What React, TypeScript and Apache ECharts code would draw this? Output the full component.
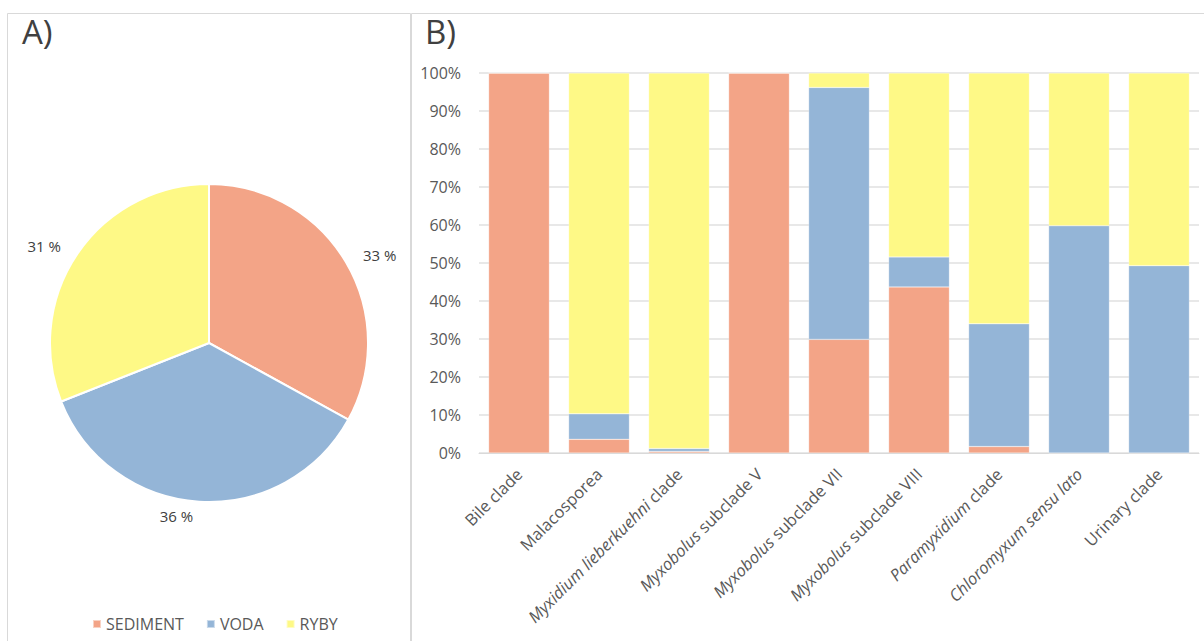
import React, { useEffect, useRef } from "react";
import * as echarts from "echarts";

const seriesNames = ["SEDIMENT", "VODA", "RYBY"];
const pieValues = [33, 36, 31];
const categories = [
  "Bile clade",
  "Malacosporea",
  "Myxidium lieberkuehni clade",
  "Myxobolus subclade V",
  "Myxobolus subclade VII",
  "Myxobolus subclade VIII",
  "Paramyxidium clade",
  "Chloromyxum sensu lato",
  "Urinary clade",
];
const italicParts = ["", "", "Myxidium lieberkuehni", "Myxobolus", "Myxobolus", "Myxobolus", "Paramyxidium", "Chloromyxum sensu lato", ""];
const sediment = [100, 3.6, 0.4, 100, 29.9, 43.7, 1.7, 0, 0];
const voda = [0, 6.7, 0.8, 0, 66.3, 7.9, 32.3, 59.8, 49.3];
const ryby = [0, 89.7, 98.8, 0, 3.8, 48.4, 66.0, 40.2, 50.7];
const yTicks = [0, 10, 20, 30, 40, 50, 60, 70, 80, 90, 100];

const colors = ["#F3A487", "#94B5D7", "#FEF986"];
const FONT = "'Open Sans', 'Noto Sans', sans-serif";

export default function App() {
  const ref = useRef<HTMLDivElement>(null);
  useEffect(() => {
    if (!ref.current) return;
    const chart = echarts.init(ref.current, undefined, { renderer: "svg" });
    const barData = [sediment, voda, ryby];
    chart.setOption({
      animation: false,
      textStyle: { fontFamily: FONT },
      color: colors,
      graphic: [
        { type: "rect", shape: { x: 7.5, y: 13.5, width: 403, height: 640 }, style: { fill: "none", stroke: "#d9d9d9", lineWidth: 1 } },
        { type: "rect", shape: { x: 411.5, y: 13.5, width: 800, height: 640 }, style: { fill: "none", stroke: "#d9d9d9", lineWidth: 1 } },
        { type: "text", left: 22, top: 15, style: { text: "A)", fontSize: 33, fill: "#404040", fontFamily: FONT } },
        { type: "text", left: 425, top: 15, style: { text: "B)", fontSize: 33, fill: "#404040", fontFamily: FONT } },
      ],
      legend: {
        data: seriesNames,
        left: 87,
        top: 611,
        itemWidth: 8,
        itemHeight: 8,
        itemGap: 22,
        icon: "rect",
        textStyle: { fontSize: 16, color: "#595959", fontFamily: FONT },
      },
      grid: { left: 479, right: 5, top: 73, bottom: 188, containLabel: false },
      xAxis: {
        type: "category",
        data: categories,
        axisTick: { show: false },
        axisLine: { lineStyle: { color: "#d9d9d9" } },
        axisLabel: {
          rotate: 45,
          interval: 0,
          margin: 18,
          fontSize: 16.5,
          color: "#595959",
          fontFamily: FONT,
          formatter: (v: string, idx: number) => {
            const it = italicParts[idx];
            if (!it) return v;
            const rest = v.slice(it.length);
            return rest ? `{i|${it}}${rest}` : `{i|${it}}`;
          },
          rich: { i: { fontStyle: "italic", fontSize: 16.5, color: "#595959", fontFamily: FONT } },
        },
      },
      yAxis: {
        type: "value",
        min: 0,
        max: 100,
        interval: 10,
        axisLabel: { formatter: "{value}%", fontSize: 16, color: "#595959", margin: 18, fontFamily: FONT },
        splitLine: { lineStyle: { color: "#e0e0e0", width: 1.5 } },
        axisLine: { show: false },
        axisTick: { show: false },
      },
      series: [
        ...seriesNames.map((n, i) => ({
          type: "bar",
          name: n,
          stack: "s",
          data: barData[i],
          barCategoryGap: "24%",
          itemStyle: { color: colors[i], borderColor: "rgba(255,255,255,0.5)", borderWidth: 0.5 },
        })),
        {
          type: "pie",
          name: "pie",
          center: [209, 343],
          radius: 159,
          startAngle: 90,
          clockwise: true,
          data: seriesNames.map((n, i) => ({ name: n, value: pieValues[i] })),
          itemStyle: { borderColor: "#fff", borderWidth: 2 },
          label: {
            show: true,
            position: "outside",
            formatter: "{c} %",
            fontSize: 15,
            color: "#404040",
            fontFamily: FONT,
          },
          labelLine: { show: false, length: 14, length2: 0 },
        },
      ],
    });
    return () => chart.dispose();
  }, []);
  return <div ref={ref} style={{ position: "fixed", left: 0, top: 0, width: 1204, height: 641, background: "#fff" }} />;
}
